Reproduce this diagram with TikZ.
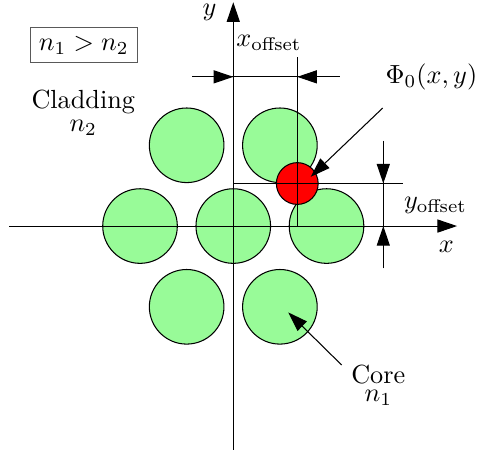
\documentclass[tikz,border=0pt]{standalone}
\usepackage{amsmath}
\usetikzlibrary{arrows.meta, calc}
\definecolor{corefill}{HTML}{98FB98}

\begin{document}
\begin{tikzpicture}[>={Triangle[length=7.5pt, width=5pt]}, thin,
  core/.style={circle, draw=black, fill=corefill, minimum size=1cm, inner sep=0pt},
  mode/.style={circle, draw=black, fill=red, minimum size=0.56cm, inner sep=0pt},
  lab/.style={inner sep=0pt}]
  \useasboundingbox (-3.127,-3.056) rectangle (3.267,3.030);

  % Jádra vlákna (Cores)
  \foreach \cx/\cy [count=\i] in {0/0, 1.25/0, -1.25/0, 0.625/1.0825, -0.625/1.0825, 0.625/-1.0825, -0.625/-1.0825}
    \node[core] (c\i) at (\cx,\cy) {};

  % Vstupní pole (Mode)
  \node[mode] (phi) at (0.858,0.57) {};

  % Osy (Axes)
  \draw[->] (-3,0) -- (3,0);
  \draw[->] (0,-3) -- (0,3);
  \node[lab] (ylab) at (-0.32,2.87) {$y$};
  \node[lab] (xlab) at (2.858,-0.275) {$x$};

  % Posun v x (x offset)
  \coordinate (xl) at (-0.553,2);
  \coordinate (xa) at (0,2);
  \coordinate (xb) at (0.858,2);
  \coordinate (xr) at (1.43,2);
  \draw (phi.center |- 0,2.265) -- (phi.center |- 0,0);
  \draw (xl) -- (xr);
  \draw[->] (xl) -- (xa);
  \draw[->] (xr) -- (xb);
  \node[lab] (xoff) at (0.478,2.45) {$x_{\mathrm{offset}}$};

  % Posun v y (y offset)
  \coordinate (yt) at (2.011,1.143);
  \coordinate (ya) at (2.011,0.57);
  \coordinate (yb) at (2.011,0);
  \coordinate (yd) at (2.011,-0.567);
  \draw (0,0.57) -- (2.279,0.57);
  \draw (yt) -- (yd);
  \draw[->] (yt) -- (ya);
  \draw[->] (yd) -- (yb);
  \node[lab] (yoff) at (2.71,0.28) {$y_{\mathrm{offset}}$};

  % Popisky (Labels)
  \node[lab] (philab) at (2.657,2.0) {$\Phi_0(x,y)$};
  \coordinate (phitail) at (2.003,1.582);
  \draw[->] (phitail) -- ($(phi)+(0.18,0.09)$);

  \node[lab, anchor=base] (corelab) at (1.944,-2.105) {Core};
  \node[lab, anchor=base] (coren) at (1.944,-2.352) {$n_1$};
  \coordinate (coretail) at (1.453,-1.863);
  \draw[->] (coretail) -- ($(c6)+(0.112,-0.075)$);

  \node[lab, anchor=base] (cladlab) at (-2.011,1.582) {Cladding};
  \node[lab, anchor=base] (cladn) at (-2.011,1.273) {$n_2$};

  \node[draw=gray!70!black, minimum width=1.44cm, minimum height=0.47cm] (cond) at (-2.004,2.426) {$n_1>n_2$};
\end{tikzpicture}
\end{document}
